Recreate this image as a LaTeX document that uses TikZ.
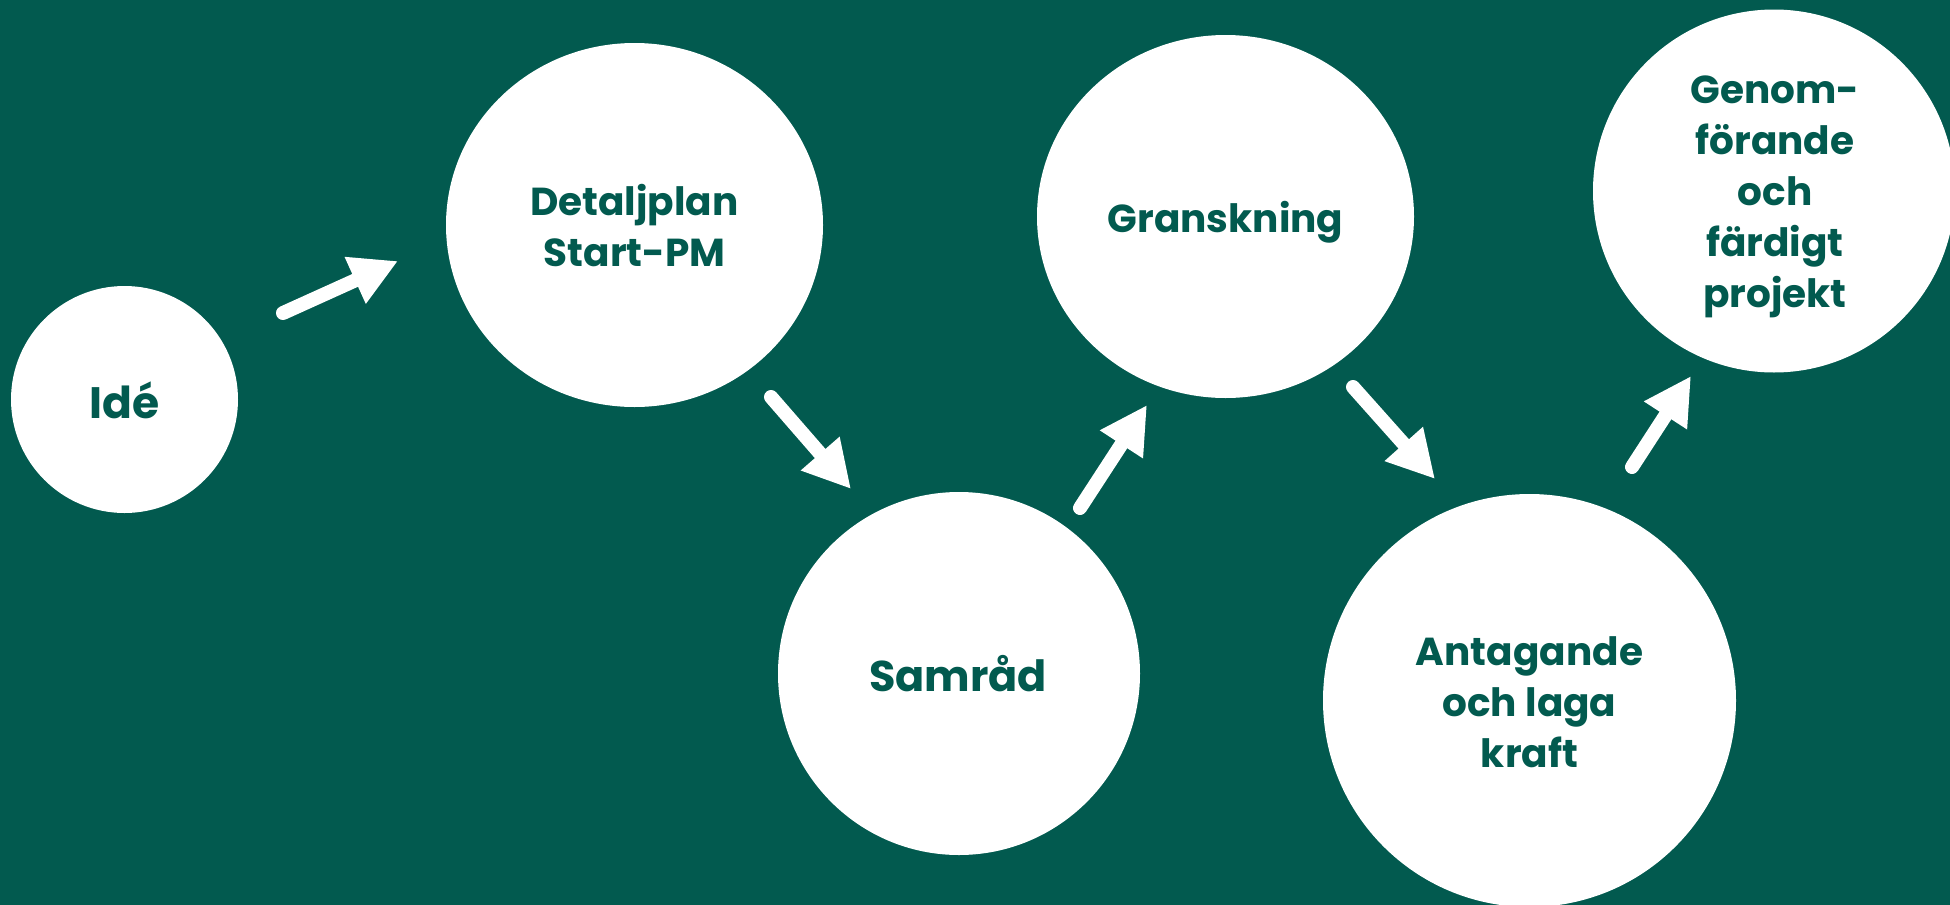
\documentclass[tikz,border=0pt]{standalone}
\usepackage{fontspec}
\setmainfont{Poppins}
\usetikzlibrary{arrows.meta,shapes.geometric}
\definecolor{bg}{RGB}{2,90,79}
\begin{document}
\begin{tikzpicture}[x=0.5pt,y=-0.5pt,
  stage/.style={ellipse,fill=white,draw=none,inner sep=0pt},
  lbl/.style={text=bg,align=center,anchor=base,inner sep=0pt},
  fsmall/.style={font=\bfseries\fontsize{19.5}{25.5}\selectfont},
  arr/.style={draw=white,line width=7pt,line cap=round,-{Triangle[length=23.5pt,width=24pt]}}]
\fill[bg] (0,0) rectangle (1950,905);
\useasboundingbox (0,0) rectangle (1950,905);
% stages
\node[stage,minimum width=113.5pt,minimum height=113.5pt] (ide) at (124.5,399.5) {};
\node[stage,minimum width=188.5pt,minimum height=182pt] (dp) at (634.5,225) {};
\node[stage,minimum width=181pt,minimum height=181.5pt] (sam) at (959,673.5) {};
\node[stage,minimum width=188.5pt,minimum height=181.5pt] (gr) at (1225.5,216.5) {};
\node[stage,minimum width=206.5pt,minimum height=206.5pt] (ant) at (1529.5,700.5) {};
\node[stage,minimum width=181pt,minimum height=181.5pt] (gen) at (1774,191) {};
% labels (anchor base = baseline of last line)
\node[lbl,font=\bfseries\fontsize{22}{28}\selectfont] (tide) at (124.5,418) {Idé};
\node[lbl,fsmall] (tdp) at (634.5,266) {Detaljplan\\Start-PM};
\node[lbl,font=\bfseries\fontsize{21.5}{28}\selectfont] (tsam) at (958,691) {Samråd};
\node[lbl,font=\bfseries\fontsize{19.5}{26}\selectfont] (tgr) at (1225.5,232) {Granskning};
\node[lbl,fsmall] (tant) at (1529.5,767) {Antagande\\och laga\\kraft};
\node[lbl,fsmall] (tgen) at (1775,307) {Genom-\\förande\\och\\färdigt\\projekt};
% arrows
\coordinate (a1s) at (283,313);  \coordinate (a1e) at (398,261);
\coordinate (a2s) at (771,397);  \coordinate (a2e) at (851,489);
\coordinate (a3s) at (1080,508); \coordinate (a3e) at (1147,405);
\coordinate (a4s) at (1353,387); \coordinate (a4e) at (1435,479);
\coordinate (a5s) at (1632,467); \coordinate (a5e) at (1691,376);
\draw[arr] (a1s) -- (a1e);
\draw[arr] (a2s) -- (a2e);
\draw[arr] (a3s) -- (a3e);
\draw[arr] (a4s) -- (a4e);
\draw[arr] (a5s) -- (a5e);
\end{tikzpicture}
\end{document}
